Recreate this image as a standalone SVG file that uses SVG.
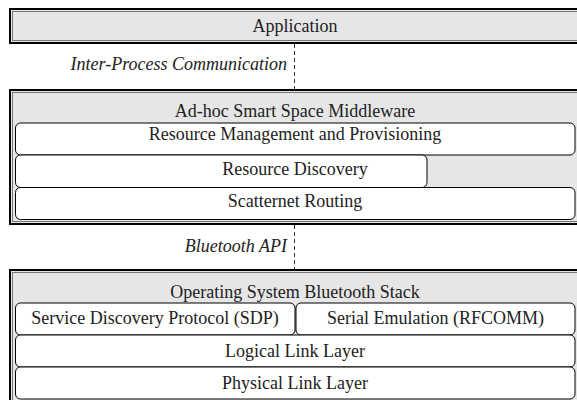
<svg xmlns="http://www.w3.org/2000/svg" width="577" height="400" viewBox="0 0 577 400">
<style>
.outer{fill:#e6e6e6;stroke:#000;stroke-width:2}
.shade{fill:none;stroke:#777;stroke-width:1}
.layer{fill:#fff;stroke:#000;stroke-width:1}
text{font-family:"Liberation Serif","Times New Roman",serif;font-size:18px;fill:#222}
.c{text-anchor:middle}
.lbl{font-style:italic;text-anchor:end}
.dash{stroke:#333;stroke-width:1;stroke-dasharray:4 3;fill:none}
</style>
<rect width="577" height="400" fill="#fff"/>
<g id="connectors">
<line class="dash" x1="294.5" y1="44" x2="294.5" y2="89"/>
<line class="dash" x1="294.5" y1="225" x2="294.5" y2="269"/>
</g>
<g id="application">
<rect class="outer" x="10" y="9" width="600" height="34"/>
<rect class="shade" x="12.5" y="11.5" width="600" height="29"/>
<text class="c" x="295" y="32">Application</text>
</g>
<g id="ipc-label">
<text class="lbl" x="287" y="70">Inter-Process Communication</text>
</g>
<g id="middleware">
<rect class="outer" x="10" y="90" width="600" height="134"/>
<rect class="shade" x="12.5" y="92.5" width="600" height="129"/>
<text class="c" x="295" y="117">Ad-hoc Smart Space Middleware</text>
</g>
<g id="resource-management">
<rect class="layer" x="15.5" y="123" width="559.5" height="32" rx="5"/>
<text class="c" x="295" y="140">Resource Management and Provisioning</text>
</g>
<g id="resource-discovery">
<rect class="layer" x="15.5" y="155" width="411.5" height="32.5" rx="5"/>
<text class="c" x="295" y="175">Resource Discovery</text>
</g>
<g id="scatternet-routing">
<rect class="layer" x="15.5" y="187.5" width="559.5" height="32" rx="5"/>
<text class="c" x="295" y="207">Scatternet Routing</text>
</g>
<g id="bt-api-label">
<text class="lbl" x="287" y="252">Bluetooth API</text>
</g>
<g id="bt-stack">
<rect class="outer" x="10" y="270" width="600" height="200"/>
<rect class="shade" x="12.5" y="272.5" width="600" height="200"/>
<text class="c" x="295" y="298">Operating System Bluetooth Stack</text>
</g>
<g id="sdp">
<rect class="layer" x="15.5" y="303" width="279.5" height="32" rx="5"/>
<text class="c" x="155" y="324">Service Discovery Protocol (SDP)</text>
</g>
<g id="rfcomm">
<rect class="layer" x="296" y="303" width="279" height="32" rx="5"/>
<text class="c" x="435.5" y="324">Serial Emulation (RFCOMM)</text>
</g>
<g id="logical-link">
<rect class="layer" x="15.5" y="335" width="559.5" height="32" rx="5"/>
<text class="c" x="295" y="357">Logical Link Layer</text>
</g>
<g id="physical-link">
<rect class="layer" x="15.5" y="367" width="559.5" height="32" rx="5"/>
<text class="c" x="295" y="389">Physical Link Layer</text>
</g>
</svg>
